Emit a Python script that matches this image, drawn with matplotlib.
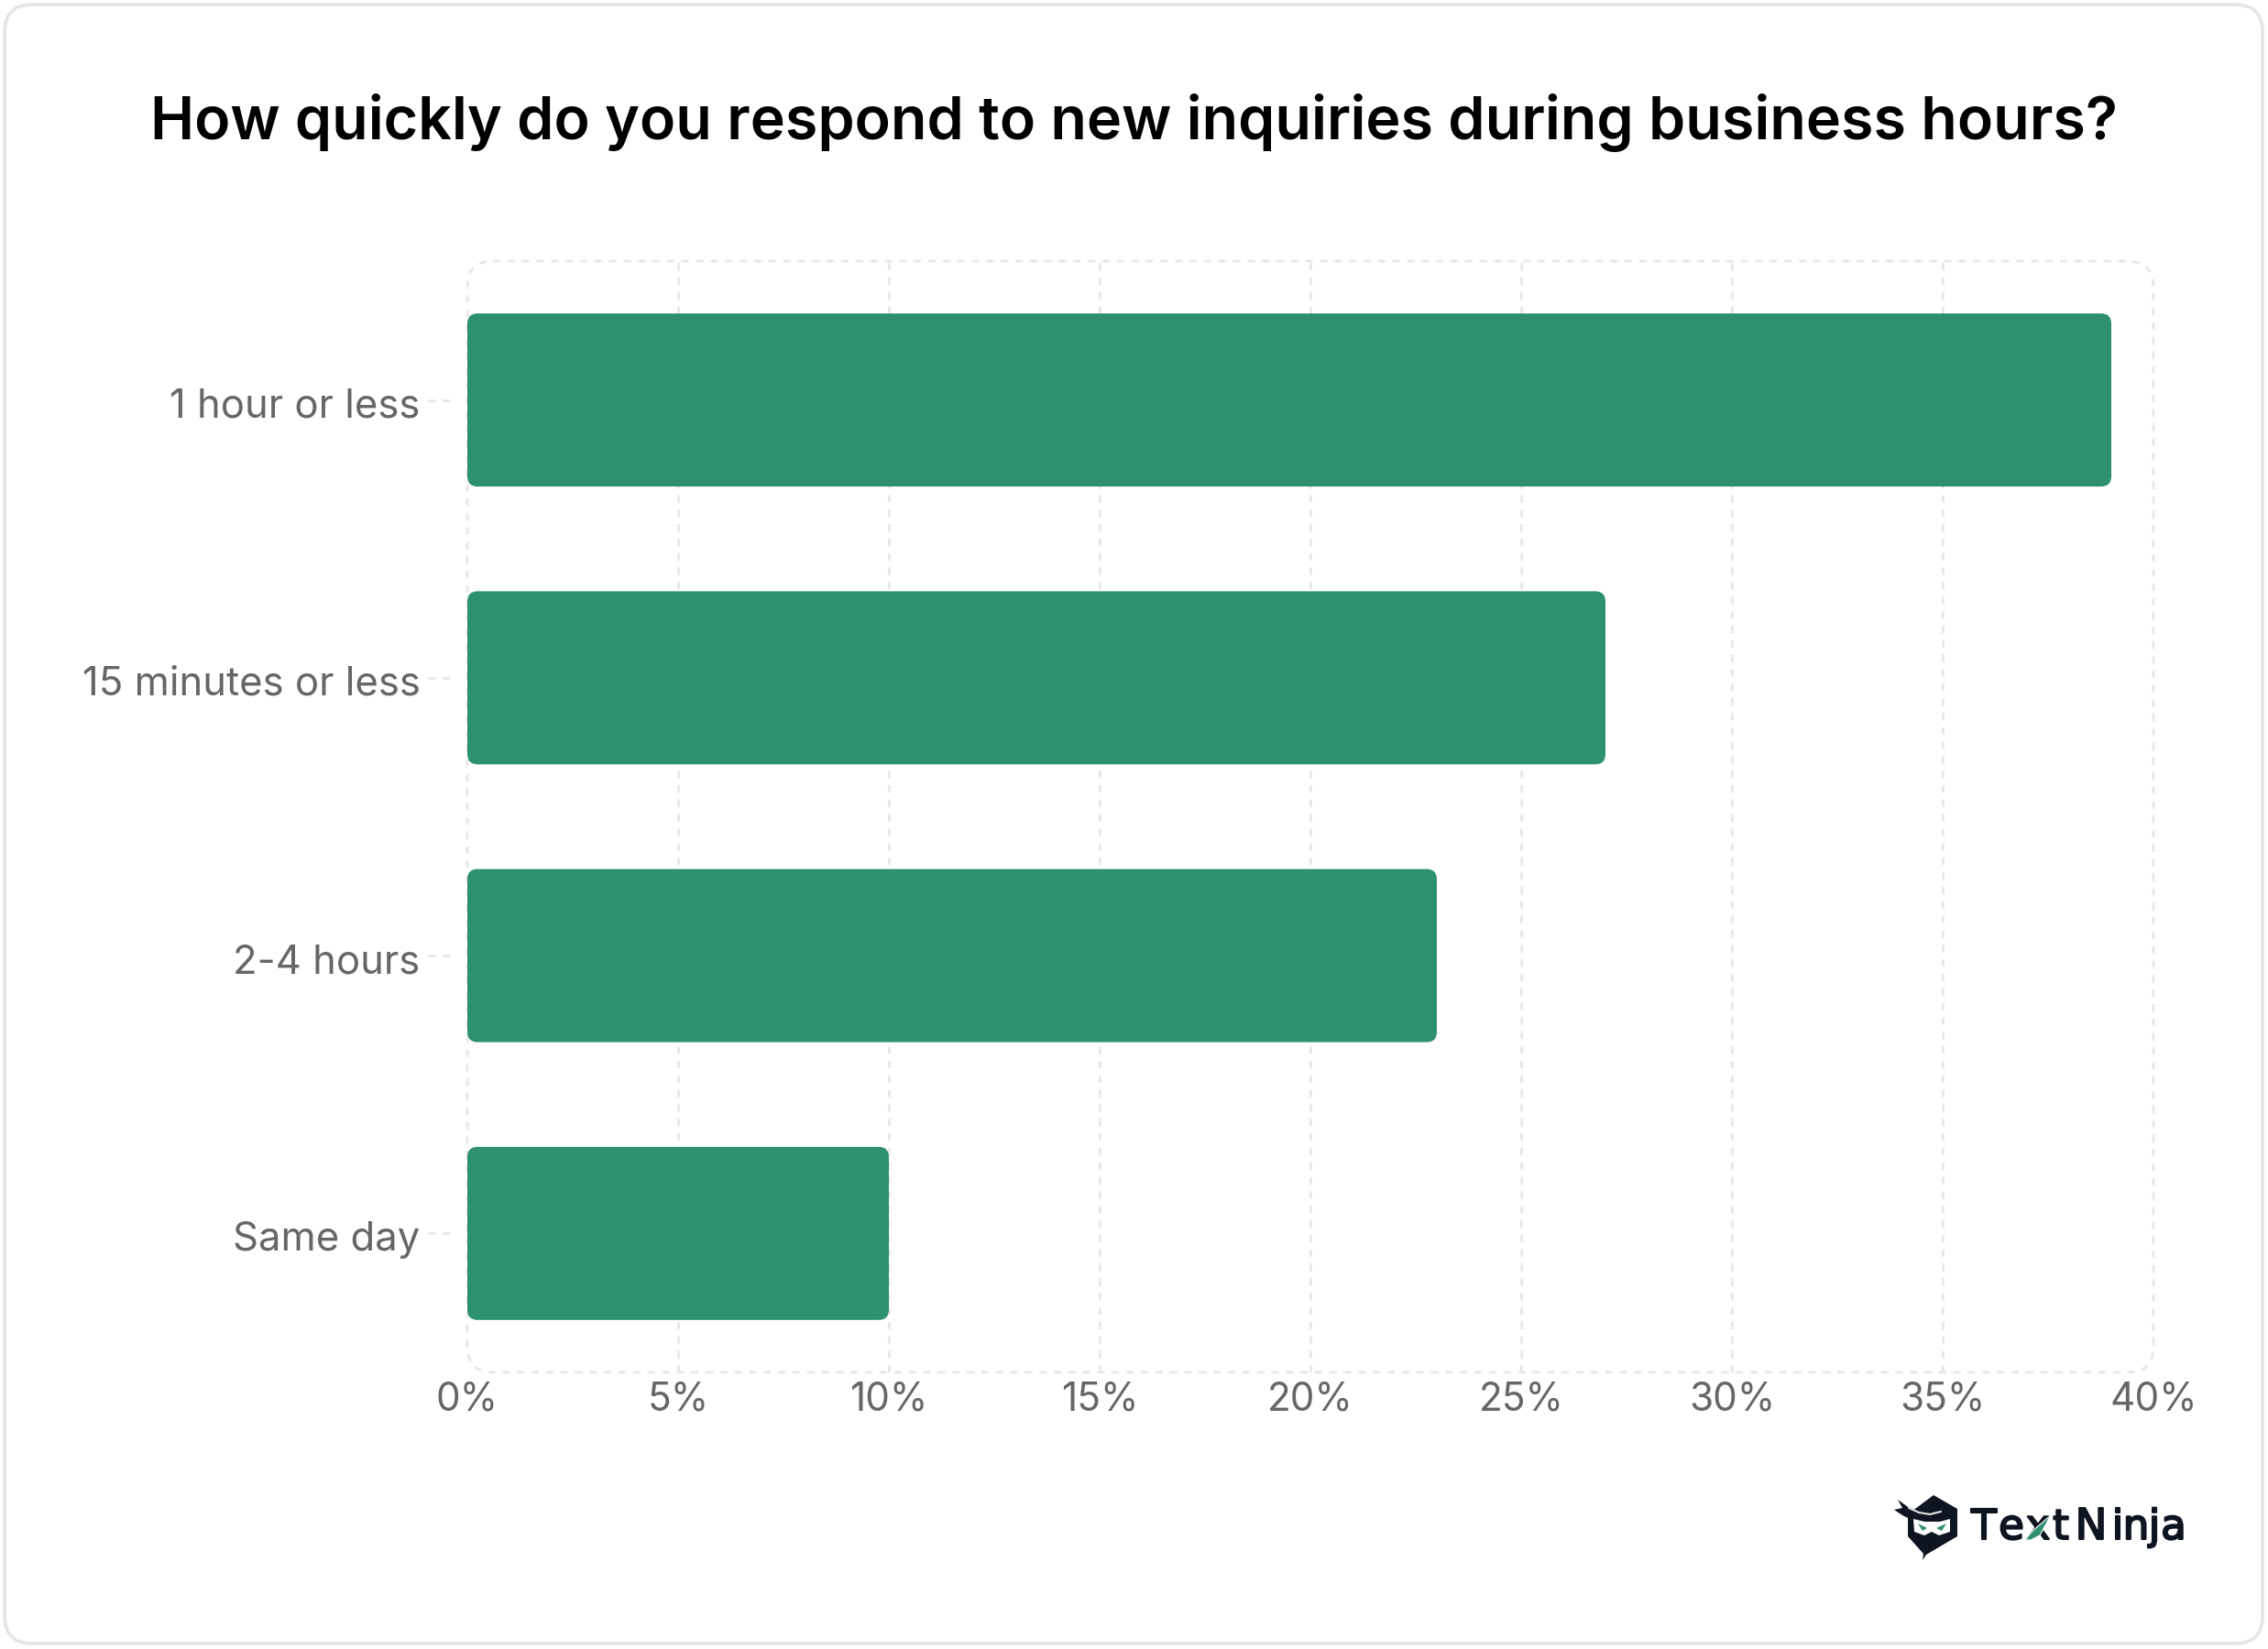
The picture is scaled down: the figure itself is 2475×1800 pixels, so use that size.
import matplotlib
matplotlib.use("Agg")
import matplotlib.pyplot as plt
import matplotlib.patheffects as pe
from matplotlib.patches import FancyBboxPatch, Polygon
from matplotlib.transforms import ScaledTranslation

TITLE = "How quickly do you respond to new inquiries during business hours?"
CATEGORIES = ["1 hour or less", "15 minutes or less", "2-4 hours", "Same day"]
VALUES = [39, 27, 23, 10]
X_TICKS = [0, 5, 10, 15, 20, 25, 30, 35, 40]
BRAND_LETTERS = ["T", "e", "x", "t", "N", "i", "n", "j", "a"]

WIDTH, HEIGHT = 2475, 1800
BAR_COLOR = "#2d9070"
GRID_COLOR = "#e6e6e6"
LABEL_COLOR = "#666666"
INK = "#0e1420"
DASH = (0, (3, 3))

# plot area in pixels
LEFT, RIGHT, TOP, BOTTOM = 510, 2350, 285, 1498
PX_PER_X = (RIGHT - LEFT) / 40
PX_PER_Y = (BOTTOM - TOP) / 4
BAR_HEIGHT = 0.623


def rounded_box(ax, x, y, w, h, radius_px, **kwargs):
    # square corners in pixels although the two axes have different scales
    box = FancyBboxPatch(
        (x, y), w, h,
        boxstyle=f"round,pad=0,rounding_size={radius_px / PX_PER_X}",
        mutation_aspect=PX_PER_X / PX_PER_Y,
        **kwargs,
    )
    ax.add_patch(box)
    return box


def draw_logo(ax):
    head = [(2110, 1632), (2136, 1647), (2136, 1677), (2102, 1697), (2098, 1703),
            (2099, 1696), (2082, 1677), (2082, 1653)]
    ax.add_patch(Polygon(head, closed=True, fc=INK, ec="none"))
    knot = [(2071, 1637), (2082, 1645), (2090, 1650), (2082, 1657), (2076, 1654), (2067, 1648), (2076, 1646)]
    ax.add_patch(Polygon(knot, closed=True, fc=INK, ec="none"))
    ax.plot([2083, 2094, 2106, 2118], [1646, 1651, 1653, 1650], color="#d9dbde", lw=1.6,
            solid_capstyle="round")
    face = [(2088, 1658), (2100, 1661), (2117, 1661), (2128, 1658), (2128, 1672),
            (2116, 1676), (2108, 1672), (2100, 1676), (2089, 1672)]
    ax.add_patch(Polygon(face, closed=True, fc="white", ec="none"))
    ax.add_patch(Polygon([(2093, 1663), (2103, 1668), (2098, 1671)], closed=True, fc=BAR_COLOR, ec="none"))
    ax.add_patch(Polygon([(2124, 1663), (2113, 1668), (2119, 1671)], closed=True, fc=BAR_COLOR, ec="none"))

    # the wordmark is wider than any installed font, so letters are spaced by hand
    centers = [2165, 2195, 2224, 2249, 2282, 2310.5, 2331, 2351, 2372]
    for letter, cx in zip(BRAND_LETTERS, centers):
        t = ax.text(cx, 1680, letter, fontsize=33.5 if letter == "N" else 32.5, color=INK,
                    family="DejaVu Sans", va="baseline", ha="center")
        t.set_path_effects([pe.withStroke(linewidth=1.5, foreground=INK)])
    # green blade across the x
    ax.add_patch(Polygon([(2210, 1681), (2217, 1672), (2238, 1654), (2226, 1676), (2216, 1681)],
                         closed=True, fc=BAR_COLOR, ec="white", lw=0.8, zorder=3))


fig = plt.figure(figsize=(WIDTH / 100, HEIGHT / 100), dpi=100, facecolor="white")

# card behind everything, laid out in pixels
page = fig.add_axes([0, 0, 1, 1], zorder=0)
page.set_xlim(0, WIDTH)
page.set_ylim(HEIGHT, 0)
page.axis("off")
page.add_patch(FancyBboxPatch((5, 5), 2464, 1789, boxstyle="round,pad=0,rounding_size=30",
                              fc="white", ec="#e5e5e5", lw=2.6))
page.text(1238, 134, TITLE, ha="center", va="center", fontsize=46.5, fontweight=600,
          family="Inter", color="black")
draw_logo(page)

ax = fig.add_axes([LEFT / WIDTH, 1 - BOTTOM / HEIGHT, (RIGHT - LEFT) / WIDTH, (BOTTOM - TOP) / HEIGHT],
                  zorder=1)
ax.patch.set_alpha(0)
ax.set_xlim(0, 40)
ax.set_ylim(4, 0)
for spine in ax.spines.values():
    spine.set_visible(False)

for tick in X_TICKS[1:-1]:
    ax.axvline(tick, color=GRID_COLOR, lw=1.9, linestyle=DASH, zorder=1)
rounded_box(ax, 0, 0, 40, 4, 28, fc="none", ec=GRID_COLOR, lw=1.9, linestyle=DASH, zorder=1,
            clip_on=False)

for i, value in enumerate(VALUES):
    rounded_box(ax, 0, i + 0.5 - BAR_HEIGHT / 2, value, BAR_HEIGHT, 11, fc=BAR_COLOR, ec="none", zorder=2)

ax.set_xticks(X_TICKS)
ax.set_xticklabels([f"{t}%" for t in X_TICKS], fontsize=30.5, color=LABEL_COLOR, family="Inter")
ax.tick_params(axis="x", length=0, pad=7)

y_positions = [i + 0.5 for i in range(len(CATEGORIES))]
ax.set_yticks(y_positions)
ax.set_yticklabels(CATEGORIES, fontsize=31.4, color=LABEL_COLOR, family="Inter")
ax.tick_params(axis="y", length=0, pad=37)
nudge = ScaledTranslation(0, -3 / 100, fig.dpi_scale_trans)
for label in ax.get_yticklabels():
    label.set_transform(label.get_transform() + nudge)

# short dashed stubs sit away from the plot edge, so tick marks can't do them
for y in y_positions:
    ax.plot([-43 / PX_PER_X, -19 / PX_PER_X], [y, y], color=GRID_COLOR, lw=1.9, linestyle=DASH,
            clip_on=False, zorder=1)

fig.savefig("out.png", dpi=100)
